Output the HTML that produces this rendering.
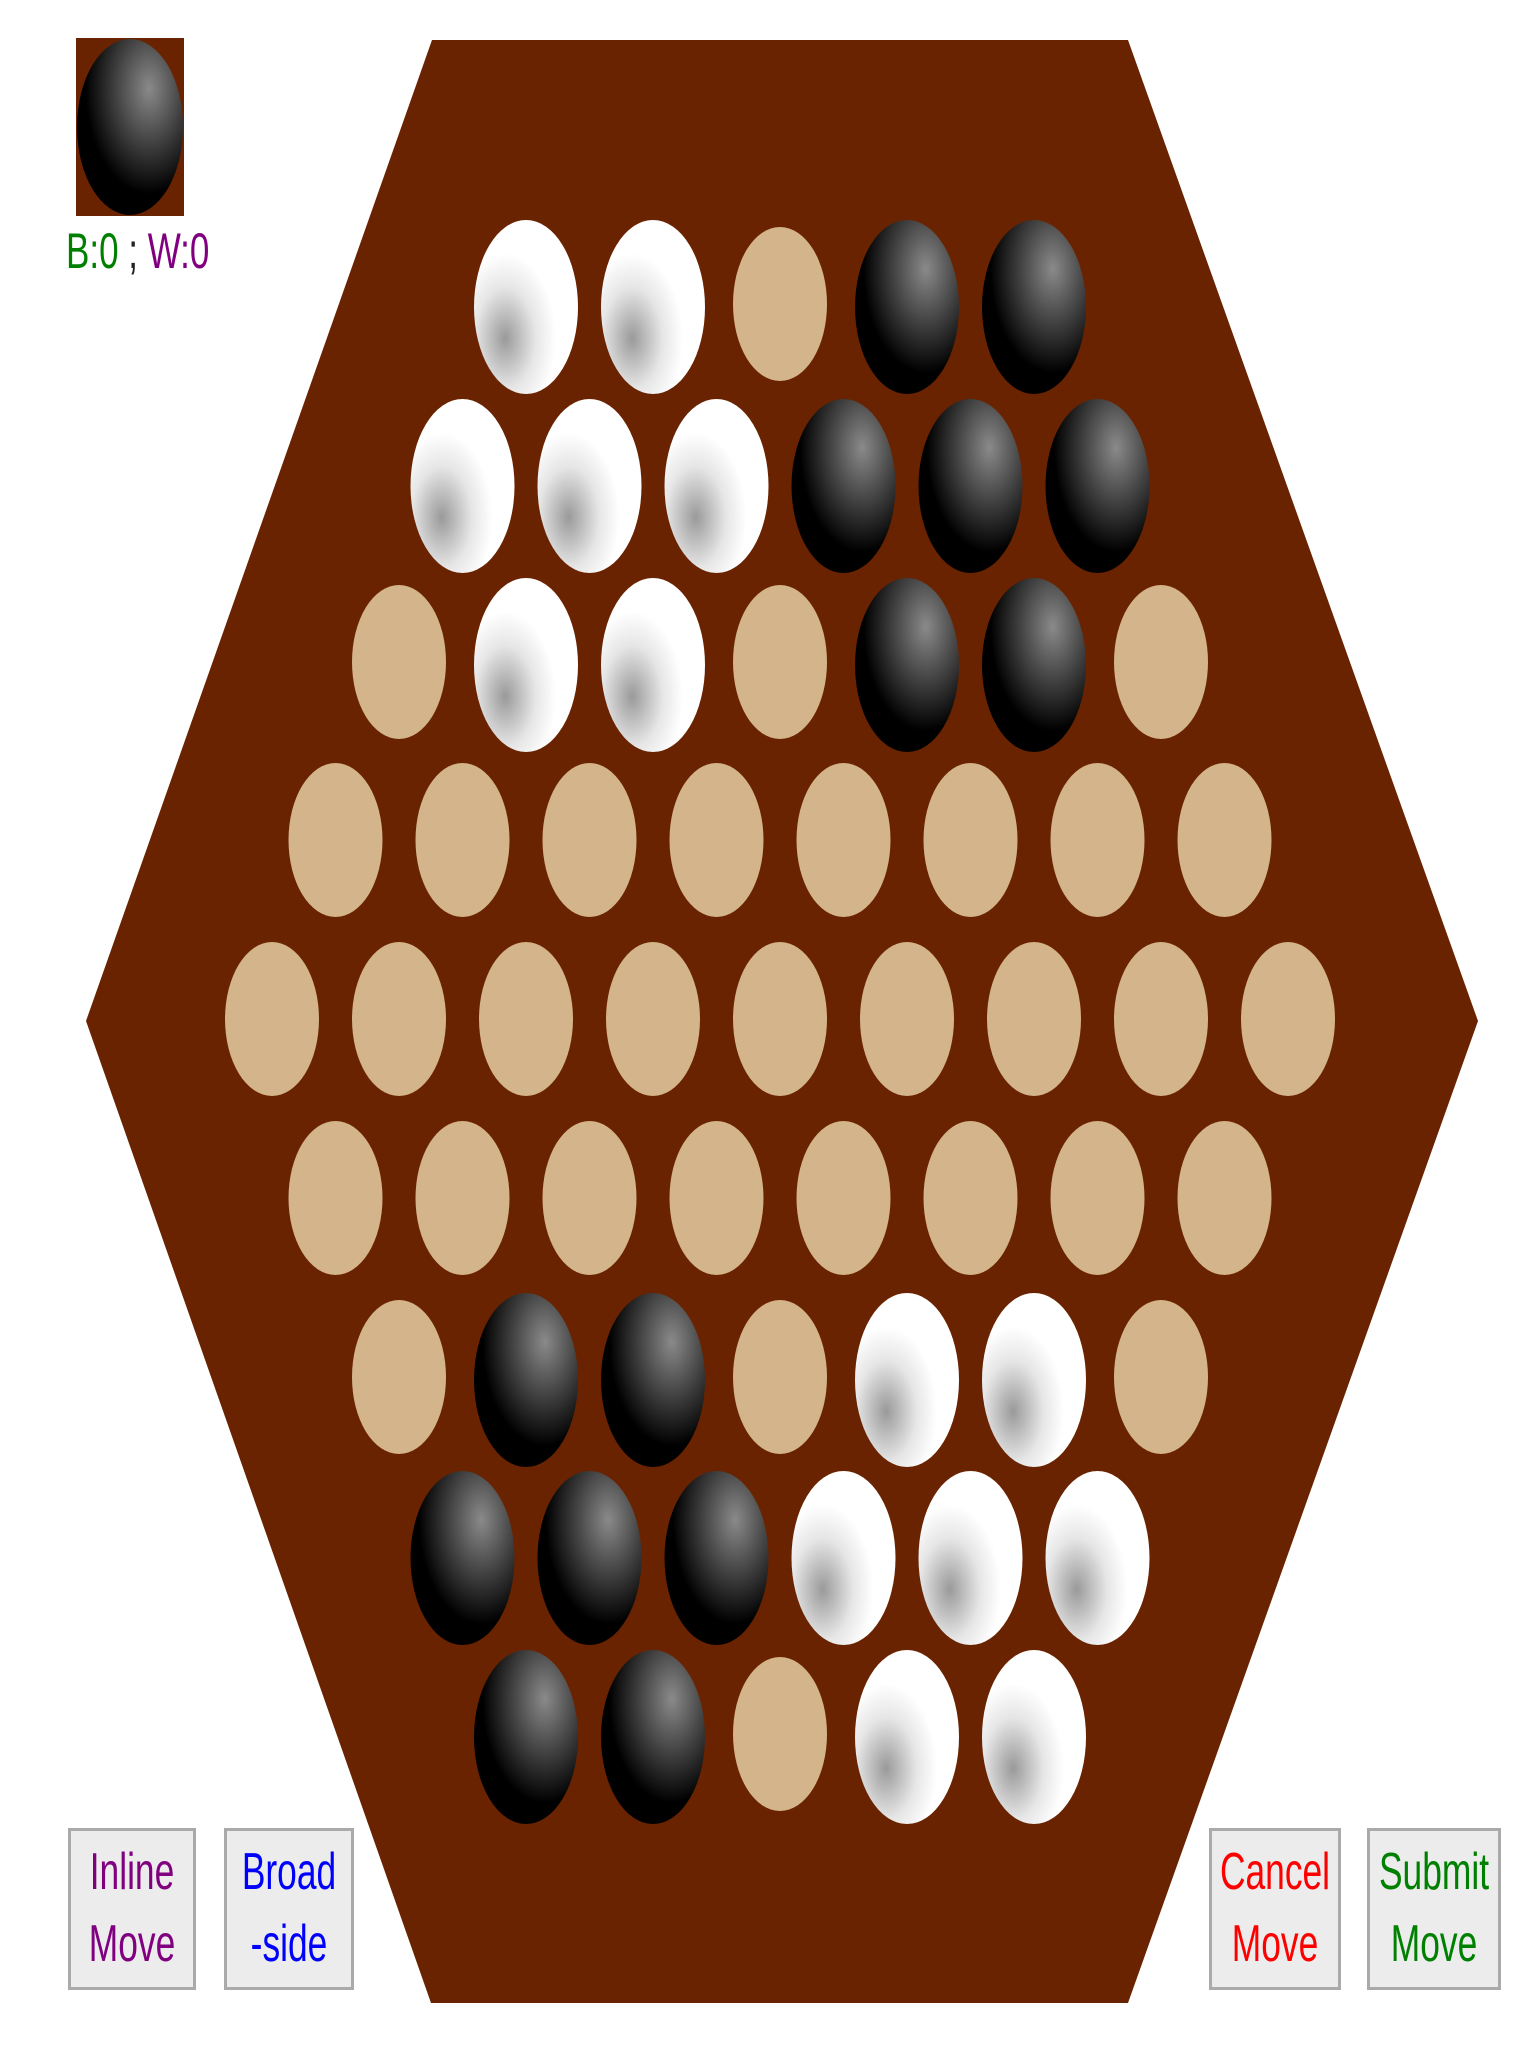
<!DOCTYPE html>
<html><head><meta charset="utf-8">
<style>
html,body{margin:0;padding:0;background:#fff;}
body{width:1536px;height:2048px;position:relative;overflow:hidden;font-family:"Liberation Sans",sans-serif;}
.btn{position:absolute;top:1828px;height:162px;box-sizing:border-box;border:3px solid #a9aaa9;background:#ececec;}
.btn span{position:absolute;left:50%;font-size:52px;line-height:52px;transform:translateX(-50%) scaleX(0.68);white-space:nowrap;}
.l1{top:15px}.l2{top:87px}
#score{position:absolute;left:66px;top:226px;font-size:50px;line-height:50px;transform-origin:0 0;transform:scaleX(0.70);white-space:nowrap;}
</style></head>
<body>
<svg width="1536" height="2048" style="position:absolute;left:0;top:0">
<defs>
<radialGradient id="gw" cx="0.3" cy="0.68" r="0.65">
<stop offset="0" stop-color="#9a9a9a"/><stop offset="0.45" stop-color="#e6e6e6"/><stop offset="0.75" stop-color="#fff"/><stop offset="1" stop-color="#fff"/></radialGradient>
<radialGradient id="gb" cx="0.68" cy="0.28" r="0.75">
<stop offset="0" stop-color="#8a8a8a"/><stop offset="0.45" stop-color="#3c3c3c"/><stop offset="0.8" stop-color="#000"/><stop offset="1" stop-color="#000"/></radialGradient>
</defs>
<rect x="76" y="38" width="108" height="178" fill="#6a2300"/>
<ellipse cx="130" cy="127" rx="53" ry="88" fill="url(#gb)"/>
<polygon points="432,40 1128,40 1478,1021 1128,2003 431,2003 86,1021" fill="#6a2300"/>
<g id="cells"></g>
</svg>
<div id="score"><span style="color:#008000">B:0</span> <span style="color:#222">;</span> <span style="color:#800080">W:0</span></div>
<div class="btn" style="left:68px;width:128px;color:#800080"><span class="l1">Inline</span><span class="l2">Move</span></div>
<div class="btn" style="left:224px;width:130px;color:#0000ff"><span class="l1">Broad</span><span class="l2">-side</span></div>
<div class="btn" style="left:1209px;width:132px;color:#ff0000"><span class="l1">Cancel</span><span class="l2">Move</span></div>
<div class="btn" style="left:1367px;width:134px;color:#008000"><span class="l1">Submit</span><span class="l2">Move</span></div>
<script>
const rows = [
 "WWEBB",
 "WWWBBB",
 "EWWEBBE",
 "EEEEEEEE",
 "EEEEEEEEE",
 "EEEEEEEE",
 "EBBEWWE",
 "BBBWWW",
 "BBEWW"
];
const rowY = [307,486,665,843,1022,1201,1380,1558,1737];
const cx0 = 780, dx = 127;
const g = document.getElementById('cells');
const NS = 'http://www.w3.org/2000/svg';
rows.forEach((r, i) => {
  const n = r.length;
  for (let k = 0; k < n; k++) {
    const x = cx0 + (k - (n - 1) / 2) * dx;
    const c = r[k];
    const e = document.createElementNS(NS, 'ellipse');
    e.setAttribute('cx', x);
    if (c === 'E') {
      e.setAttribute('cy', rowY[i] - 3);
      e.setAttribute('rx', 47);
      e.setAttribute('ry', 77);
      e.setAttribute('fill', '#d4b48a');
      
    } else {
      e.setAttribute('cy', rowY[i]);
      e.setAttribute('rx', 52);
      e.setAttribute('ry', 87);
      e.setAttribute('fill', c === 'W' ? 'url(#gw)' : 'url(#gb)');
      
    }
    
    g.appendChild(e);
  }
});
</script>
</body></html>
